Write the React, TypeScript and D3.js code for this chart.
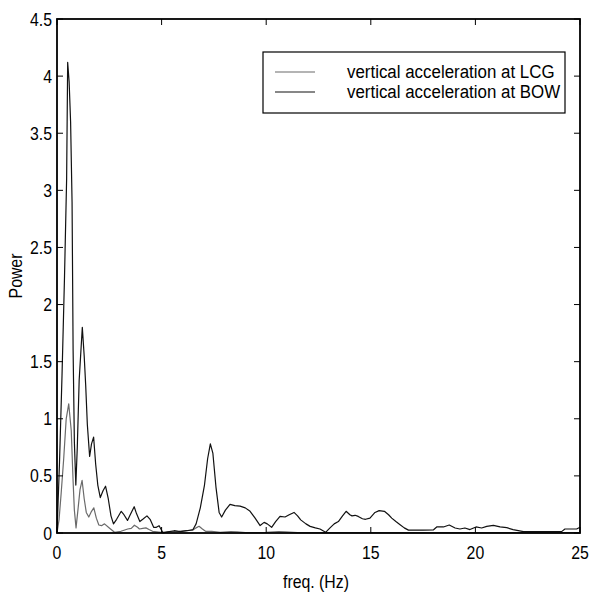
import React from "react";
import * as d3 from "d3";

const bowFreq = [0,0.12,0.24,0.36,0.46,0.51,0.58,0.65,0.72,0.77,0.83,0.9,0.97,1.06,1.21,1.3,1.37,1.45,1.56,1.65,1.75,1.85,1.95,2.07,2.2,2.32,2.45,2.58,2.7,2.85,3.07,3.2,3.37,3.5,3.69,3.8,3.96,4.1,4.3,4.45,4.62,4.75,4.88,5.07,5.3,5.6,5.9,6.2,6.5,6.65,6.85,7.05,7.2,7.33,7.45,7.6,7.75,7.87,8.05,8.27,8.5,8.75,9.0,9.23,9.47,9.71,9.9,10.05,10.26,10.45,10.66,10.9,11.1,11.33,11.5,11.65,11.9,12.1,12.35,12.57,12.84,13.05,13.25,13.45,13.65,13.82,14.0,14.1,14.25,14.4,14.6,14.75,14.96,15.2,15.4,15.65,15.85,16.0,16.2,16.4,16.6,16.8,17.5,18.0,18.15,18.47,18.75,19.03,19.26,19.5,19.74,20.03,20.3,20.54,20.86,21.18,21.5,21.8,22.3,24.12,24.28,24.84,25];
const bowPower = [0,0.62,1.38,2.25,3.1,4.12,3.95,3.6,2.9,1.6,0.8,0.42,0.75,1.34,1.8,1.55,1.3,0.95,0.67,0.78,0.84,0.6,0.42,0.31,0.37,0.41,0.3,0.15,0.08,0.12,0.19,0.16,0.11,0.16,0.23,0.17,0.1,0.12,0.15,0.12,0.05,0.05,0.064,0.0,0.01,0.02,0.012,0.02,0.03,0.08,0.22,0.42,0.65,0.78,0.7,0.4,0.18,0.14,0.2,0.25,0.24,0.235,0.22,0.19,0.13,0.065,0.093,0.08,0.05,0.1,0.146,0.14,0.16,0.18,0.15,0.115,0.08,0.058,0.045,0.035,0.006,0.045,0.08,0.1,0.15,0.19,0.16,0.15,0.155,0.145,0.125,0.12,0.13,0.18,0.196,0.19,0.16,0.13,0.1,0.073,0.045,0.025,0.025,0.028,0.053,0.053,0.07,0.044,0.035,0.044,0.03,0.053,0.044,0.058,0.067,0.053,0.047,0.03,0.012,0.012,0.035,0.035,0.05];

const lcgFreq = [0,0.1,0.2,0.32,0.44,0.56,0.68,0.77,0.83,0.91,1.0,1.1,1.2,1.3,1.4,1.52,1.65,1.76,1.88,2.0,2.13,2.27,2.5,2.75,3.06,3.38,3.55,3.7,3.85,3.94,4.1,4.25,4.4,4.57,4.97,5.4,5.84,6.2,6.48,6.65,6.79,6.95,7.1,7.4,7.8,8.3,8.6,9.0,10.0,10.6,10.9,11.5,25];
const lcgPower = [0,0.12,0.35,0.65,1.0,1.13,0.9,0.45,0.2,0.045,0.2,0.38,0.46,0.3,0.18,0.14,0.19,0.22,0.13,0.07,0.064,0.08,0.044,0.006,0.015,0.035,0.04,0.068,0.05,0.035,0.04,0.045,0.03,0.015,0.006,0.012,0.015,0.02,0.024,0.045,0.059,0.035,0.015,0.015,0.006,0.012,0.01,0.003,0.005,0.012,0.01,0.003,0.003];

const xTicks = [0, 5, 10, 15, 20, 25];
const yTicks = [0, 0.5, 1, 1.5, 2, 2.5, 3, 3.5, 4, 4.5];
const seriesNames = ["vertical acceleration at LCG", "vertical acceleration at BOW"];
const seriesColors = ["#6a6a6a", "#111111"];

const W = 589, H = 592;
const L = 57, R = 580, T = 19, B = 533;
const FONT = "'Liberation Sans', Arial, sans-serif";

function SText(props: { x: number; y: number; size: number; anchor?: string; sx?: number; rotate?: number; children: React.ReactNode }) {
  const { x, y, size, anchor = "start", sx = 0.88, rotate = 0, children } = props;
  return (
    <text
      transform={`translate(${x},${y}) rotate(${rotate}) scale(${sx},1)`}
      textAnchor={anchor}
      fontFamily={FONT}
      fontSize={size}
      fill="#000"
    >
      {children}
    </text>
  );
}

export default function App() {
  const x = d3.scaleLinear().domain([0, 25]).range([L, R]);
  const y = d3.scaleLinear().domain([0, 4.5]).range([B, T]);
  const line = d3.line<[number, number]>().x(d => x(d[0])).y(d => y(d[1]));
  const bow = bowFreq.map((f, i) => [f, bowPower[i]] as [number, number]);
  const lcg = lcgFreq.map((f, i) => [f, lcgPower[i]] as [number, number]);
  const tl = 6;
  return (
    <svg width={W} height={H} style={{ position: "absolute", left: 0, top: 0, background: "#fff" }}>
      <rect x={0} y={0} width={W} height={H} fill="#fff" />
      <path d={line(lcg) || ""} fill="none" stroke={seriesColors[0]} strokeWidth={1.2} strokeLinejoin="round" />
      <path d={line(bow) || ""} fill="none" stroke={seriesColors[1]} strokeWidth={1.2} strokeLinejoin="round" />
      <rect x={L} y={T} width={R - L} height={B - T} fill="none" stroke="#000" strokeWidth={1.8} />
      {xTicks.map(t => (
        <g key={"x" + t}>
          <line x1={x(t)} x2={x(t)} y1={B} y2={B - tl} stroke="#000" strokeWidth={1} />
          <line x1={x(t)} x2={x(t)} y1={T} y2={T + tl} stroke="#000" strokeWidth={1} />
          <SText x={x(t)} y={559} size={18} anchor="middle">{t}</SText>
        </g>
      ))}
      {yTicks.map(t => (
        <g key={"y" + t}>
          <line x1={L} x2={L + tl} y1={y(t)} y2={y(t)} stroke="#000" strokeWidth={1} />
          <line x1={R} x2={R - tl} y1={y(t)} y2={y(t)} stroke="#000" strokeWidth={1} />
          <SText x={52} y={y(t) + 6.5} size={18} anchor="end">{String(t)}</SText>
        </g>
      ))}
      <SText x={316} y={588} size={18} anchor="middle">freq. (Hz)</SText>
      <SText x={22} y={(T + B) / 2} size={18} anchor="middle" rotate={-90}>Power</SText>
      <rect x={263} y={52} width={302} height={61} fill="#fff" stroke="#000" strokeWidth={1.2} />
      {seriesNames.map((n, i) => (
        <g key={n}>
          <line x1={275} x2={315} y1={72 + i * 20} y2={72 + i * 20} stroke={seriesColors[i]} strokeWidth={1.2} />
          <SText x={347} y={72 + i * 20 + 6} size={19} sx={0.89}>{n}</SText>
        </g>
      ))}
    </svg>
  );
}
